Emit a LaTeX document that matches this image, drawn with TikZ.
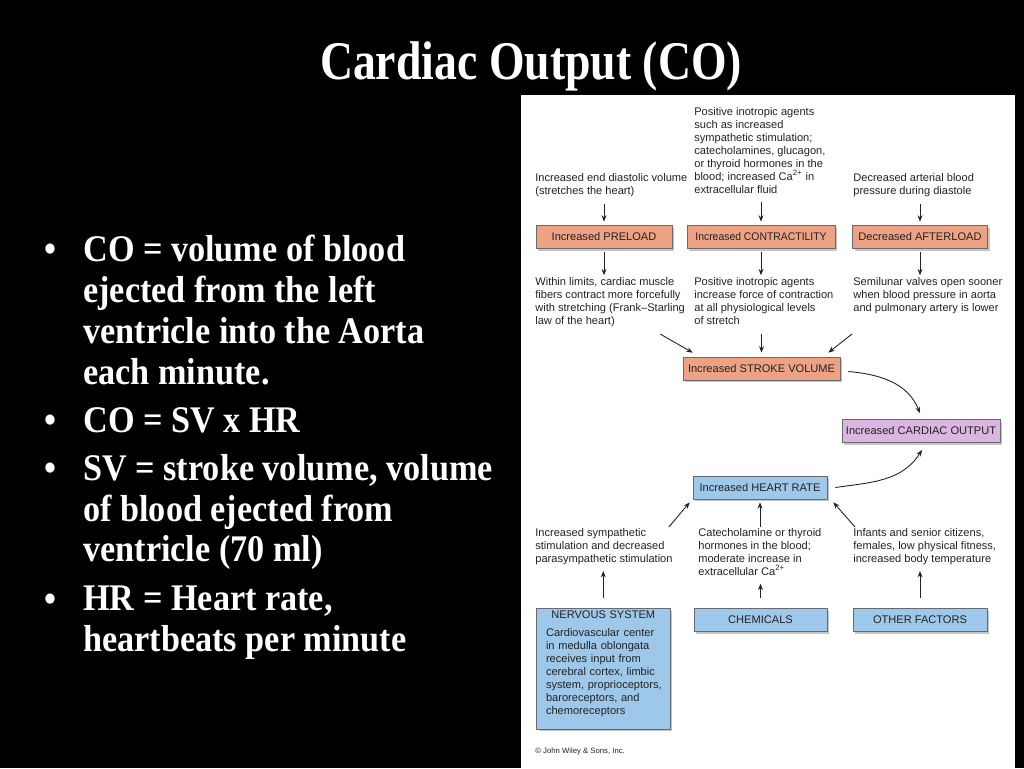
\documentclass[tikz,border=0pt]{standalone}
\usepackage{fontspec}
\setmainfont{Liberation Serif}
\setsansfont{Liberation Sans}
\newfontfamily\slidefont[FakeStretch=0.91]{Liberation Serif}
\newfontfamily\titlefont[FakeStretch=0.84]{Liberation Serif}
\usetikzlibrary{calc}
\usetikzlibrary{arrows.meta}
\usetikzlibrary{shadows}
\usepackage{xcolor}
\definecolor{svsalmon}{RGB}{238,162,132}
\definecolor{colilac}{RGB}{218,182,224}
\definecolor{hrblue}{RGB}{158,200,234}
\definecolor{boxline}{RGB}{105,105,115}
\definecolor{inktext}{RGB}{35,35,35}
\newcommand{\diafont}{\sffamily\fontsize{6.3}{7.4}\selectfont}
\tikzset{
  note/.style={font=\diafont, text=inktext, align=left, anchor=north west, inner sep=0pt},
  factor/.style={draw=boxline, line width=0.4pt, font=\diafont, text=inktext, inner sep=1pt,
    minimum height=0.46cm, drop shadow={shadow xshift=1.3pt, shadow yshift=-1.3pt, fill=black!45}},
  arr/.style={line width=0.5pt, draw=inktext, -{Stealth[length=3.6pt,width=2.8pt]}},
  bullettext/.style={font=\slidefont\bfseries\fontsize{21.4}{23.2}\selectfont, text=white, align=left, anchor=north west, inner sep=0pt},
  dot/.style={font=\slidefont\bfseries\fontsize{21.4}{23.2}\selectfont, text=white, anchor=base, inner sep=0pt},
}
\begin{document}
\begin{tikzpicture}[x=0.02cm,y=-0.02cm]
	% background and figure panel
	\fill[black] (0,0) rectangle (1024,768);
	\fill[white] (521,95) rectangle (1015,768);
	\node[font=\titlefont\bfseries\fontsize{31}{36}\selectfont, text=white, anchor=base] (title) at (531,79) {Cardiac Output (CO)};
	%bullets on the left
	\node[dot] (d1) at (50,261) {\textbullet};
	\node[bullettext] (b1) at (83,235) {CO = volume of blood\\ejected from the left\\ventricle into the Aorta\\each minute.};
	\node[dot] (d2) at (50,432) {\textbullet};
	\node[bullettext] (b2) at (83,407) {CO = SV x HR};
	\node[dot] (d3) at (50,480) {\textbullet};
	\node[bullettext] (b3) at (83,454) {SV = stroke volume, volume\\of blood ejected from\\ventricle (70 ml)};
	\node[dot] (d4) at (50,611) {\textbullet};
	\node[bullettext] (b4) at (83,586) {HR = Heart rate,\\heartbeats per minute};
	%stroke volume part
	\node[note] (inL) at (535,173) {Increased end diastolic volume\\(stretches the heart)};
	\node[note] (inM) at (694,107) {Positive inotropic agents\\such as increased\\sympathetic stimulation;\\catecholamines, glucagon,\\or thyroid hormones in the\\blood; increased Ca\textsuperscript{2+} in\\extracellular fluid};
	\node[note] (inR) at (853,173) {Decreased arterial blood\\pressure during diastole};
	\node[factor, fill=svsalmon, minimum width=2.72cm] (pre) at (604,237) {Increased PRELOAD};
	\node[factor, fill=svsalmon, minimum width=2.96cm] (con) at (761,237) {\scalebox{0.94}[1]{Increased CONTRACTILITY}};
	\node[factor, fill=svsalmon, minimum width=2.7cm] (aft) at (920,237) {Decreased AFTERLOAD};
	\node[note] (effL) at (535,277) {Within limits, cardiac muscle\\fibers contract more forcefully\\with stretching (Frank--Starling\\law of the heart)};
	\node[note] (effM) at (694,277) {Positive inotropic agents\\increase force of contraction\\at all physiological levels\\of stretch};
	\node[note] (effR) at (853,277) {Semilunar valves open sooner\\when blood pressure in aorta\\and pulmonary artery is lower};
	\node[factor, fill=svsalmon, minimum width=3.14cm] (sv) at (761.5,368.5) {Increased STROKE VOLUME};
	\node[factor, fill=colilac, minimum width=3.16cm] (co) at (921,431) {Increased CARDIAC OUTPUT};
	%heart rate part
	\node[factor, fill=hrblue, minimum width=2.68cm] (hr) at (760,487.5) {Increased HEART RATE};
	\node[note] (hrL) at (535,528) {Increased sympathetic\\stimulation and decreased\\parasympathetic stimulation};
	\node[note] (hrM) at (698,528) {Catecholamine or thyroid\\hormones in the blood;\\moderate increase in\\extracellular Ca\textsuperscript{2+}};
	\node[note] (hrR) at (853,528) {Infants and senior citizens,\\females, low physical fitness,\\increased body temperature};
	\node[factor, fill=hrblue, anchor=north west, text width=2.29cm, align=left, inner xsep=5.5pt, inner ysep=0pt,
		text height=5.7pt, text depth=62.9pt] (nerv) at (536,608)
		{\hyphenpenalty=10000\hfill NERVOUS SYSTEM\hfill\null\\[2.8pt]Cardiovascular center\\in medulla oblongata\\receives input from\\cerebral cortex, limbic\\\mbox{system, proprioceptors,}\\baroreceptors, and\\chemoreceptors};
	\node[factor, fill=hrblue, minimum width=2.66cm] (chem) at (760.5,620) {CHEMICALS};
	\node[factor, fill=hrblue, minimum width=2.68cm] (oth) at (920,620) {OTHER FACTORS};
	\node[note, font=\sffamily\fontsize{4.4}{5}\selectfont] (wiley) at (535,748) {\copyright{} John Wiley \& Sons, Inc.};
	%arrows
	\draw[arr, shorten <=4pt, shorten >=2pt] (pre.north |- inL.south) -- (pre.north);
	\draw[arr, shorten <=4.5pt, shorten >=2pt] (con.north |- inM.south) -- (con.north);
	\draw[arr, shorten <=4pt, shorten >=2pt] (aft.north |- inR.south) -- (aft.north);
	\draw[arr, shorten <=2pt, shorten >=1pt] (pre.south) -- (pre.south |- effL.north);
	\draw[arr, shorten <=2pt, shorten >=1pt] (con.south) -- (con.south |- effM.north);
	\draw[arr, shorten <=2pt, shorten >=1pt] (aft.south) -- (aft.south |- effR.north);
	\draw[arr] ($(effL.south east)+(-25,7)$) -- ($(sv.north west)+(10,-4)$);
	\draw[arr, shorten <=5pt, shorten >=2.3pt] (sv.north |- effM.south) -- (sv.north);
	\draw[arr] ($(effR.south west)+(-1,20)$) -- ($(sv.north east)+(-12,-4)$);
	\draw[arr] ($(sv.east)+(8,3)$) to[out=-5, in=112] ($(co.north)+(-1,-6)$);
	\draw[arr] ($(hr.east)+(8,0)$) to[out=8, in=-122] ($(co.south)+(1,7)$);
	\draw[arr] ($(hrL.north east)+(-4,-1)$) -- ($(hr.south west)+(-3,3)$);
	\draw[arr, shorten <=0.5pt, shorten >=1.7pt] (hr.south |- hrM.north) -- (hr.south);
	\draw[arr] ($(hrR.north west)+(2,-1)$) -- ($(hr.south east)+(6,3)$);
	\draw[arr, shorten <=5.7pt, shorten >=3.4pt] (nerv.north) -- (nerv.north |- hrL.south);
	\draw[arr, shorten <=5.7pt, shorten >=4.5pt] (chem.north) -- (chem.north |- hrM.south);
	\draw[arr, shorten <=5.7pt, shorten >=3.4pt] (oth.north) -- (oth.north |- hrR.south);
\end{tikzpicture}
\end{document}
